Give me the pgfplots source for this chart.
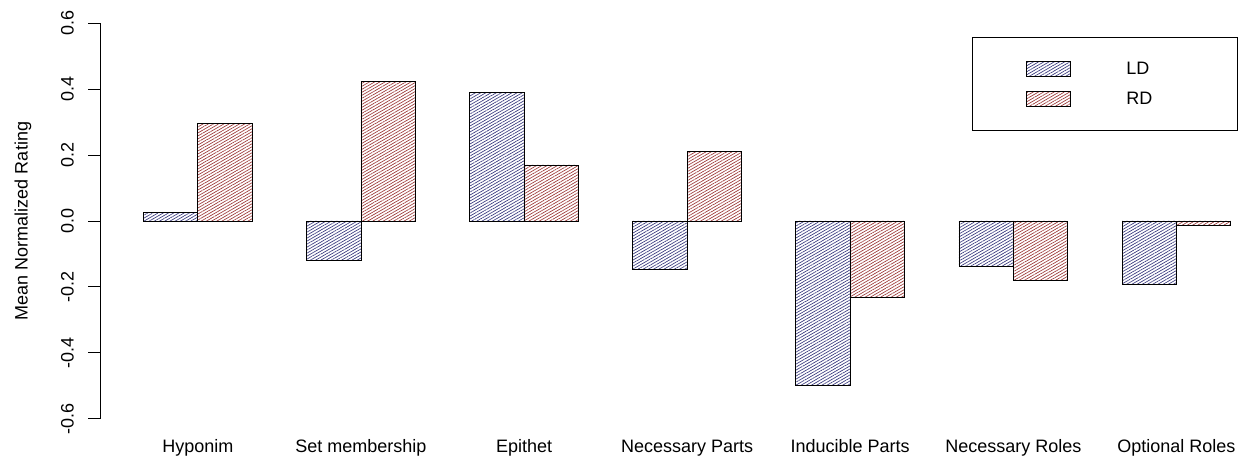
\documentclass[border=0pt]{standalone}
\usepackage{fontspec}
\setmainfont{Liberation Sans}
\usepackage{pgfplots}
\pgfplotsset{compat=1.18}
\usetikzlibrary{patterns.meta}
\definecolor{ldc}{RGB}{55,55,125}
\definecolor{rdc}{RGB}{155,55,55}
\newcommand{\rfont}{\fontsize{13.5}{16}\selectfont}
\begin{document}
\begin{tikzpicture}
\begin{axis}[
  x=40.77pt, y=247.1pt,
  xmin=-1.8, xmax=19.17, ymin=-0.6, ymax=0.6,
  clip=false,
  axis x line*=bottom, axis y line*=left,
  x axis line style={draw=none},
  y axis line style={black, line width=0.6pt, -},
  xtick={0,3,6,9,12,15,18},
  xticklabels={Hyponim, Set membership, Epithet, Necessary Parts, Inducible Parts, Necessary Roles, Optional Roles},
  xtick style={draw=none},
  xticklabel style={anchor=base, yshift=-16.5pt, font=\rfont},
  ytick={-0.6,-0.4,-0.2,0,0.2,0.4,0.6},
  yticklabels={-0.6,-0.4,-0.2,0.0,0.2,0.4,0.6},
  tick align=outside,
  ytick style={black, line width=0.6pt},
  major tick length=9pt,
  yticklabel style={rotate=90, anchor=center, yshift=15.4pt, font=\rfont},
  every axis y label/.style={at={(axis description cs:0,0.5)}, rotate=90, anchor=center, yshift=57.75pt, font=\rfont},
  ylabel={Mean Normalized Rating},
  legend style={at={(axis cs:19.129,0.5575)}, anchor=north east, draw=black, line width=0.6pt,
    inner xsep=40.3pt, inner ysep=17.5pt, row sep=10.85pt, column sep=41.8pt,
    font=\rfont, cells={anchor=west}, nodes={inner sep=0pt, text width=42.9pt, align=left}},
  legend image code/.code={\draw[#1] (0pt,-5.625pt) rectangle (33pt,5.625pt);},
]
\addplot[ybar, bar width=40.77pt, bar shift=0pt, draw=black, line width=0.6pt,
  pattern={Lines[angle=30, distance=1.95pt, line width=0.5pt]}, pattern color=ldc]
  coordinates {(-0.5,0.027) (2.5,-0.12) (5.5,0.39) (8.5,-0.146) (11.5,-0.50) (14.5,-0.138) (17.5,-0.193)};
\addlegendentry{LD}
\addplot[ybar, bar width=40.77pt, bar shift=0pt, draw=black, line width=0.6pt,
  pattern={Lines[angle=30, distance=1.95pt, line width=0.5pt]}, pattern color=rdc]
  coordinates {(0.5,0.296) (3.5,0.424) (6.5,0.17) (9.5,0.21) (12.5,-0.232) (15.5,-0.18) (18.5,-0.012)};
\addlegendentry{RD}
\coordinate (bbsw) at (axis cs:-3.64,-0.7448);
\coordinate (bbne) at (axis cs:19.17,0.6707);
\end{axis}
\pgfresetboundingbox
\path[use as bounding box] (bbsw) rectangle (bbne);
\end{tikzpicture}
\end{document}
